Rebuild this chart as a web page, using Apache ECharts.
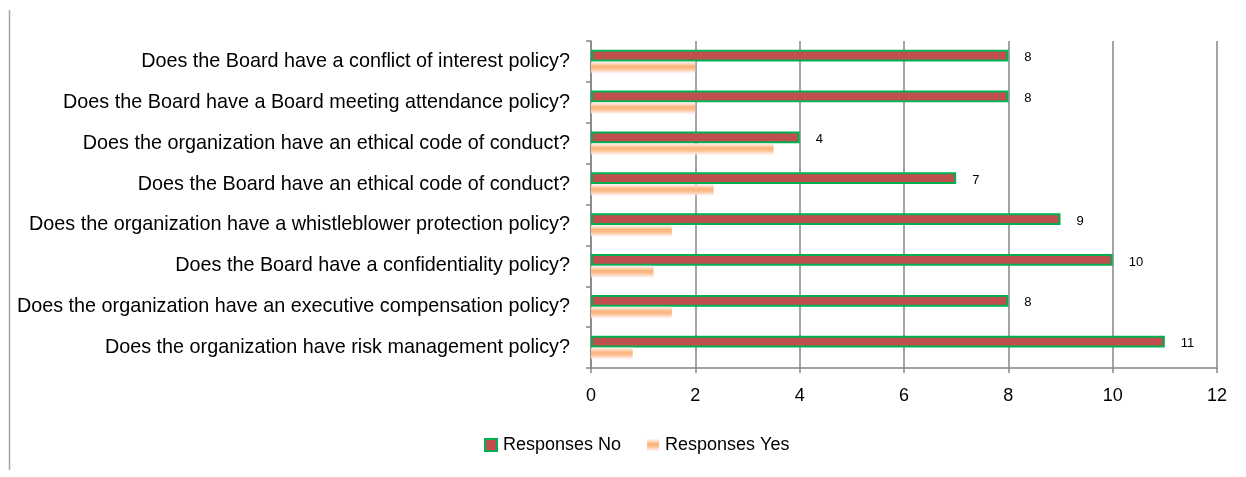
<!DOCTYPE html>
<html>
<head>
<meta charset="utf-8">
<script src="https://cdn.jsdelivr.net/npm/echarts@6/dist/echarts.min.js"></script>
<style>
  html, body { margin: 0; padding: 0; background: #fff; }
  #chart { width: 1246px; height: 477px; }
</style>
</head>
<body>
<div id="chart"></div>
<script>
// Survey questions, top to bottom
const questions = [
  'Does the Board have a conflict of interest policy?',
  'Does the Board have a Board meeting attendance policy?',
  'Does the organization have an ethical code of conduct?',
  'Does the Board have an ethical code of conduct?',
  'Does the organization have a whistleblower protection policy?',
  'Does the Board have a confidentiality policy?',
  'Does the organization have an executive compensation policy?',
  'Does the organization have risk management policy?'
];
const responsesNo = [8, 8, 4, 7, 9, 10, 8, 11];
const responsesYes = [2, 2, 3.5, 2.35, 1.55, 1.2, 1.55, 0.8];
const xTicks = [0, 2, 4, 6, 8, 10, 12];

const chart = echarts.init(document.getElementById('chart'));
const labelFont = '"Liberation Sans", Arial, sans-serif';

// soft vertical orange fill for the "Yes" bars
const yesFill = new echarts.graphic.LinearGradient(0, 0, 0, 1, [
  { offset: 0, color: 'rgba(253,228,232,0.5)' },
  { offset: 0.18, color: '#FDDCC4' },
  { offset: 0.4, color: '#FBB47C' },
  { offset: 0.6, color: '#FBBD8A' },
  { offset: 0.82, color: '#FDDCC8' },
  { offset: 1, color: 'rgba(253,230,238,0.4)' }
]);

chart.setOption({
  animation: false,
  textStyle: { fontFamily: labelFont },
  grid: { left: 591, right: 29, top: 41, bottom: 109, containLabel: false },
  graphic: [{
    type: 'line',
    shape: { x1: 9.5, y1: 10, x2: 9.5, y2: 470 },
    style: { stroke: '#a6a6a6', lineWidth: 1.5 }
  }],
  xAxis: {
    type: 'value',
    min: xTicks[0],
    max: xTicks[xTicks.length - 1],
    interval: 2,
    axisLine: { show: true, lineStyle: { color: '#868686', width: 1.5 } },
    axisTick: { show: true, length: 5, lineStyle: { color: '#868686', width: 1.5 } },
    axisLabel: { color: '#000', fontSize: 18, margin: 19, fontFamily: labelFont },
    splitLine: { show: true, lineStyle: { color: '#868686', width: 1.5 } }
  },
  yAxis: {
    type: 'category',
    data: questions,
    inverse: true,
    axisLine: { show: true, lineStyle: { color: '#868686', width: 1.5 } },
    axisTick: { show: true, length: 5, lineStyle: { color: '#868686', width: 1.5 } },
    axisLabel: { color: '#000', fontSize: 19.8, margin: 21, fontFamily: labelFont },
    splitLine: { show: false }
  },
  legend: {
    bottom: 18,
    left: 479,
    itemWidth: 12,
    itemHeight: 12,
    itemGap: 26,
    textStyle: { color: '#000', fontSize: 18, fontFamily: labelFont, padding: [0, 0, 0, 1] },
    data: [
      { name: 'Responses No', icon: 'rect' },
      { name: 'Responses Yes', icon: 'rect' }
    ]
  },
  series: [
    {
      name: 'Responses No',
      type: 'bar',
      data: responsesNo,
      barWidth: 11.7,
      barGap: '0%',
      itemStyle: { color: '#C0504D', borderColor: '#00B050', borderWidth: 2 },
      label: {
        show: true,
        position: 'right',
        distance: 16,
        offset: [0, 2],
        color: '#000',
        fontSize: 13,
        fontFamily: labelFont
      }
    },
    {
      name: 'Responses Yes',
      type: 'bar',
      data: responsesYes,
      barWidth: 11.7,
      itemStyle: { color: yesFill }
    }
  ]
});
</script>
</body>
</html>
